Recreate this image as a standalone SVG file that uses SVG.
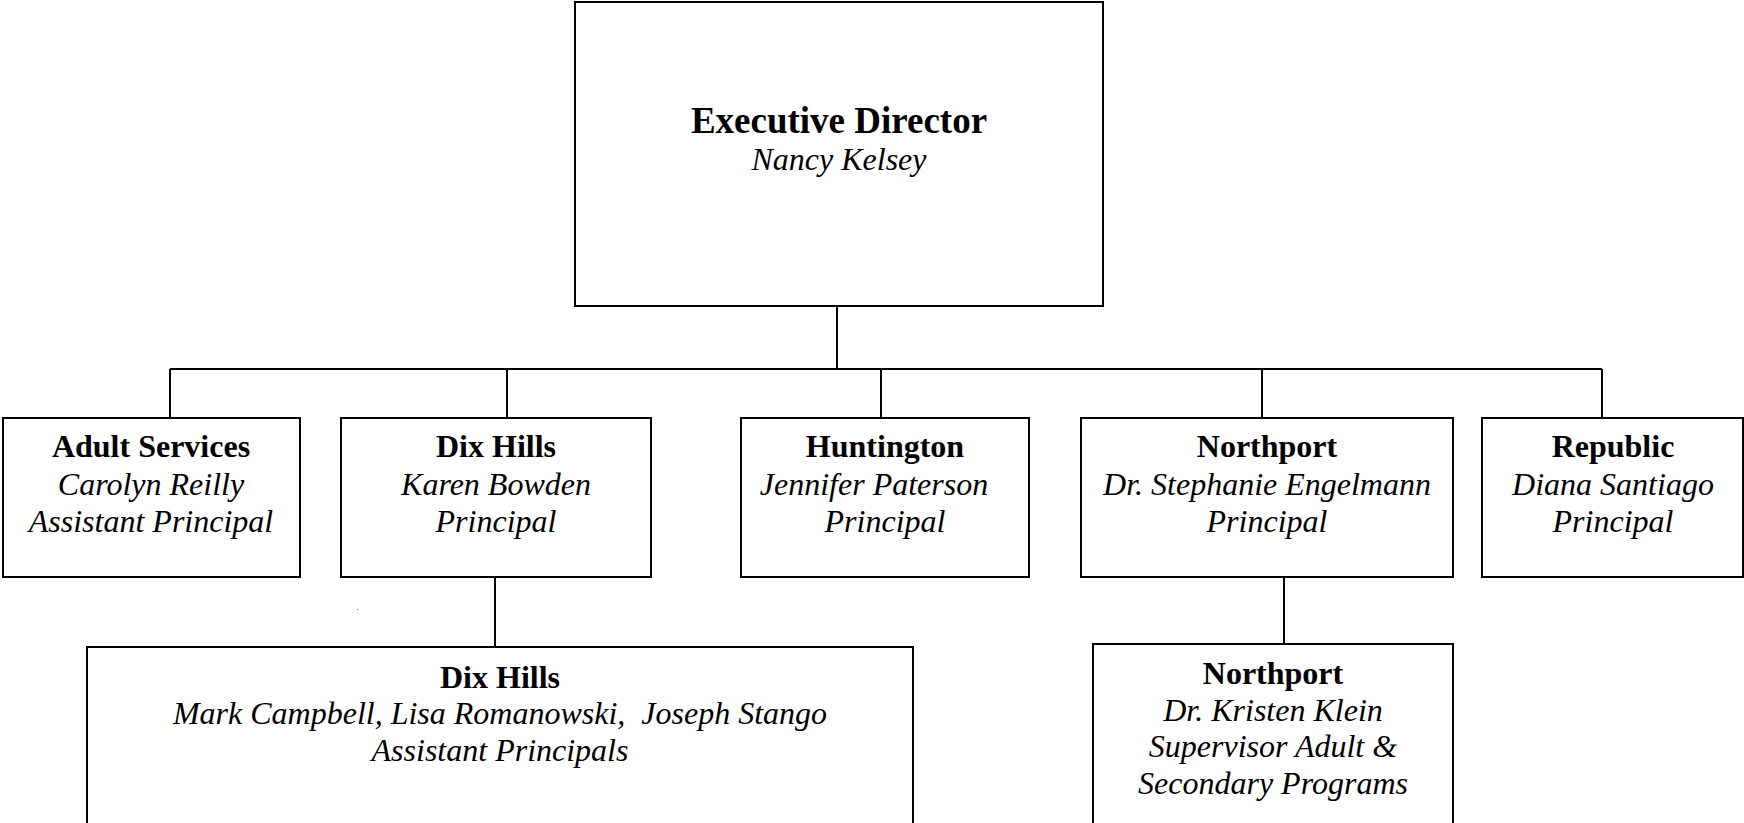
<svg xmlns="http://www.w3.org/2000/svg" width="1744" height="823" viewBox="0 0 1744 823">
<style>
.box{fill:#fff;stroke:#000;stroke-width:2}
.ln{stroke:#000;stroke-width:2;fill:none}
text{font-family:"Liberation Serif","Times New Roman",serif;fill:#000;text-anchor:middle;white-space:pre}
.b{font-weight:bold;font-size:32px}
.i{font-style:italic;font-size:32px}
.bt{font-weight:bold;font-size:37px}
</style>
<rect width="1744" height="823" fill="#fff"/>
<g id="connectors">
<path class="ln" d="M837 306V369M170 369H1602M170 369V418M507 369V418M881 369V418M1262 369V418M1602 369V418M495 577V647M1284 577V644"/>
</g>
<g id="exec">
<rect class="box" x="575" y="2" width="528" height="304"/>
<text class="bt" x="839" y="133">Executive Director</text>
<text class="i" x="839" y="170">Nancy Kelsey</text>
</g>
<g id="adult">
<rect class="box" x="3" y="418" width="297" height="159"/>
<text class="b" x="151" y="457">Adult Services</text>
<text class="i" x="151" y="495">Carolyn Reilly</text>
<text class="i" x="151" y="532">Assistant Principal</text>
</g>
<g id="dixhills">
<rect class="box" x="341" y="418" width="310" height="159"/>
<text class="b" x="496" y="457">Dix Hills</text>
<text class="i" x="496" y="495">Karen Bowden</text>
<text class="i" x="496" y="532">Principal</text>
</g>
<g id="huntington">
<rect class="box" x="741" y="418" width="288" height="159"/>
<text class="b" x="885" y="457">Huntington</text>
<text class="i" x="874" y="495">Jennifer Paterson</text>
<text class="i" x="885" y="532">Principal</text>
</g>
<g id="northport">
<rect class="box" x="1081" y="418" width="372" height="159"/>
<text class="b" x="1267" y="457">Northport</text>
<text class="i" x="1267" y="495">Dr. Stephanie Engelmann</text>
<text class="i" x="1267" y="532">Principal</text>
</g>
<g id="republic">
<rect class="box" x="1482" y="418" width="261" height="159"/>
<text class="b" x="1613" y="457">Republic</text>
<text class="i" x="1613" y="495">Diana Santiago</text>
<text class="i" x="1613" y="532">Principal</text>
</g>
<g id="dixhills-ap">
<rect class="box" x="87" y="647" width="826" height="190"/>
<text class="b" x="500" y="688">Dix Hills</text>
<text class="i" x="500" y="724" xml:space="preserve">Mark Campbell, Lisa Romanowski,  Joseph Stango</text>
<text class="i" x="500" y="761">Assistant Principals</text>
</g>
<g id="northport-sup">
<rect class="box" x="1093" y="644" width="360" height="193"/>
<text class="b" x="1273" y="684">Northport</text>
<text class="i" x="1273" y="721">Dr. Kristen Klein</text>
<text class="i" x="1273" y="757">Supervisor Adult &amp;</text>
<text class="i" x="1273" y="794">Secondary Programs</text>
</g>
<rect x="357" y="609" width="1" height="1" fill="#666"/>
</svg>
